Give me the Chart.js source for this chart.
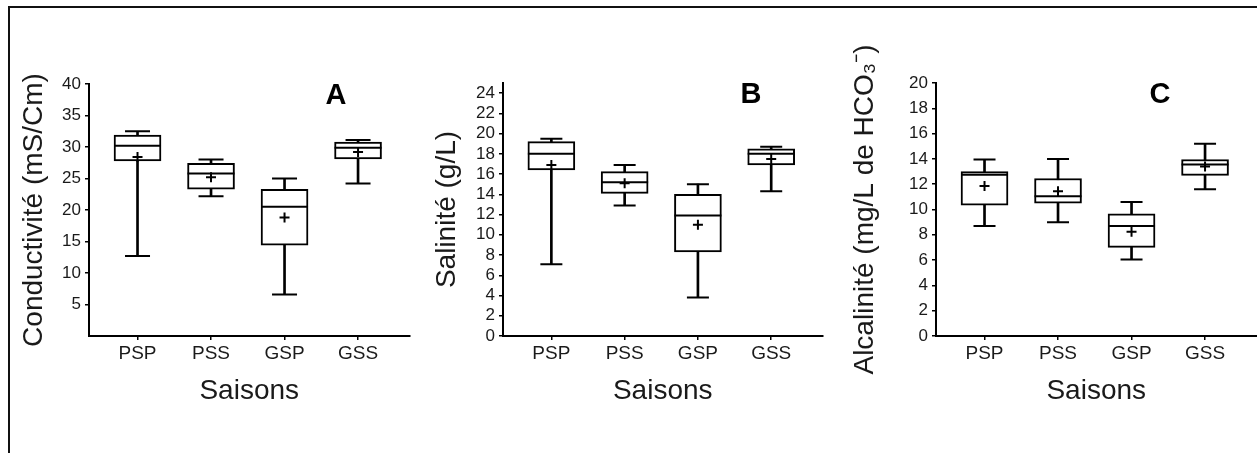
<!DOCTYPE html>
<html lang="fr">
<head>
    <meta charset="UTF-8">
    <title>Conductivité, salinité et alcalinité par saison</title>
    <script src="https://cdn.jsdelivr.net/npm/chart.js"></script>
    <style>
        body { margin: 0; background: #fff; }
        #page { position: relative; width: 1257px; height: 453px; overflow: hidden; }
        #frame {
            position: absolute; left: 8px; top: 6px; width: 1300px; height: 500px;
            border-top: 2px solid #111; border-left: 2px solid #111;
        }
        .panel { position: absolute; top: 0; height: 453px; }
    </style>
</head>
<body>
<div id="page">
    <div id="frame"></div>
    <!-- les canevas débordent à droite de 25px : l'axe x réserve cette marge pour ses libellés -->
    <div class="panel" style="left:10px;width:425px"><canvas id="chartA"></canvas></div>
    <div class="panel" style="left:420px;width:428px"><canvas id="chartB"></canvas></div>
    <div class="panel" style="left:840px;width:442px"><canvas id="chartC"></canvas></div>
</div>

<script>
    const saisons = ['PSP', 'PSS', 'GSP', 'GSS'];

    // A - Conductivité (mS/Cm)
    const condMin  = [12.7, 22.2, 6.6, 24.2];
    const condQ1   = [27.8, 23.3, 14.4, 28.1];
    const condMed  = [30.2, 25.8, 20.5, 29.9];
    const condQ3   = [31.9, 27.4, 23.3, 30.8];
    const condMax  = [32.5, 28.0, 25.0, 31.1];
    const condMean = [28.4, 25.2, 18.8, 29.2];
    const condTicks = [5, 10, 15, 20, 25, 30, 35, 40];

    // B - Salinité (g/L)
    const salMin  = [7.1, 12.9, 3.8, 14.3];
    const salQ1   = [16.4, 14.1, 8.3, 16.9];
    const salMed  = [18.0, 15.2, 11.9, 18.0];
    const salQ3   = [19.2, 16.25, 14.0, 18.5];
    const salMax  = [19.5, 16.9, 15.0, 18.7];
    const salMean = [16.9, 15.1, 11.0, 17.5];
    const salTicks = [0, 2, 4, 6, 8, 10, 12, 14, 16, 18, 20, 22, 24];

    // C - Alcalinité (mg/L de HCO3-)
    const alcMin  = [8.7, 9.0, 6.05, 11.6];
    const alcQ1   = [10.35, 10.5, 7.0, 12.7];
    const alcMed  = [12.75, 11.05, 8.7, 13.55];
    const alcQ3   = [13.0, 12.45, 9.65, 13.95];
    const alcMax  = [13.95, 14.0, 10.6, 15.2];
    const alcMean = [11.85, 11.45, 8.25, 13.4];
    const alcTicks = [0, 2, 4, 6, 8, 10, 12, 14, 16, 18, 20];

    const FONT = '"Liberation Sans", Arial, sans-serif';

    // lettre du panneau (A, B, C)
    const panelLetter = {
        id: 'panelLetter',
        afterDraw(chart, args, opts) {
            const ctx = chart.ctx;
            ctx.save();
            ctx.font = 'bold 29px ' + FONT;
            ctx.fillStyle = '#000';
            ctx.textAlign = 'center';
            ctx.fillText(opts.text, chart.chartArea.left + opts.dx, opts.y);
            ctx.restore();
        }
    };

    const pts = arr => arr.map((v, i) => ({ x: i, y: v }));

    function boxChart(id, s) {
        return new Chart(document.getElementById(id), {
            type: 'bar',
            data: {
                datasets: [
                    { type: 'scatter', data: pts(s.mean), pointStyle: 'cross', pointRadius: 5,
                      borderColor: '#000', borderWidth: 2 },
                    { type: 'scatter', data: pts(s.med), pointStyle: 'line', pointRadius: 23.5,
                      borderColor: '#000', borderWidth: 2 },
                    { type: 'scatter', data: pts(s.max).concat(pts(s.min)), pointStyle: 'line',
                      pointRadius: s.capR, borderColor: '#000', borderWidth: 2 },
                    { data: s.q1.map((v, i) => ({ x: i, y: [v, s.q3[i]] })),
                      backgroundColor: '#fff', borderColor: '#000', borderWidth: 2,
                      borderSkipped: false, barThickness: 47, grouped: false },
                    { data: s.min.map((v, i) => ({ x: i, y: [v, s.max[i]] })),
                      backgroundColor: '#000', borderWidth: 0, barThickness: 2, grouped: false }
                ]
            },
            options: {
                responsive: true,
                maintainAspectRatio: false,
                animation: false,
                events: [],
                layout: { padding: { top: s.padTop, right: 0, left: 0, bottom: 0 } },
                plugins: {
                    legend: { display: false },
                    tooltip: { enabled: false },
                    panelLetter: { text: s.letter, dx: s.letterX, y: s.letterY }
                },
                scales: {
                    x: {
                        type: 'linear', min: -0.66, max: 3.7, offset: false,
                        afterBuildTicks: sc => { sc.ticks = saisons.map((_, i) => ({ value: i })); },
                        afterFit: sc => { sc.height = 117; },
                        ticks: { autoSkip: false, maxRotation: 0, padding: 2, color: '#1a1a1a',
                                 font: { family: FONT, size: 19 },
                                 callback: v => saisons[v] },
                        grid: { offset: false, drawOnChartArea: false, tickLength: 4, color: '#000', lineWidth: 1.5 },
                        border: { color: '#000', width: 2 },
                        title: { display: true, text: 'Saisons', color: '#1a1a1a',
                                 font: { family: FONT, size: 28 }, padding: { top: 0, bottom: 45 } }
                    },
                    y: {
                        min: 0, max: s.yMax,
                        afterBuildTicks: sc => { sc.ticks = s.ticks.map(v => ({ value: v })); },
                        afterFit: sc => { sc.width = s.yWidth; },
                        ticks: { autoSkip: false, padding: 4, color: '#1a1a1a', font: { family: FONT, size: 17 } },
                        grid: { drawOnChartArea: false, tickLength: 4, color: '#000', lineWidth: 1.5 },
                        border: { color: '#000', width: 2 },
                        title: { display: true, text: s.title, color: '#1a1a1a',
                                 font: { family: FONT, size: 28 }, padding: { top: s.titlePad, bottom: 0 } }
                    }
                }
            },
            plugins: [panelLetter]
        });
    }

    boxChart('chartA', {
        min: condMin, q1: condQ1, med: condMed, q3: condQ3, max: condMax, mean: condMean,
        ticks: condTicks, yMax: 40, title: 'Conductivité (mS/Cm)',
        padTop: 84, yWidth: 79, titlePad: 7, capR: 12.5,
        letter: 'A', letterX: 247, letterY: 104
    });

    boxChart('chartB', {
        min: salMin, q1: salQ1, med: salMed, q3: salQ3, max: salMax, mean: salMean,
        ticks: salTicks, yMax: 25, title: 'Salinité (g/L)',
        padTop: 83, yWidth: 83, titlePad: 10, capR: 11,
        letter: 'B', letterX: 248, letterY: 103
    });

    boxChart('chartC', {
        min: alcMin, q1: alcQ1, med: alcMed, q3: alcQ3, max: alcMax, mean: alcMean,
        ticks: alcTicks, yMax: 20, title: 'Alcalinité (mg/L de HCO₃⁻)',
        padTop: 83, yWidth: 96, titlePad: 8, capR: 11,
        letter: 'C', letterX: 224, letterY: 103
    });
</script>
</body>
</html>
